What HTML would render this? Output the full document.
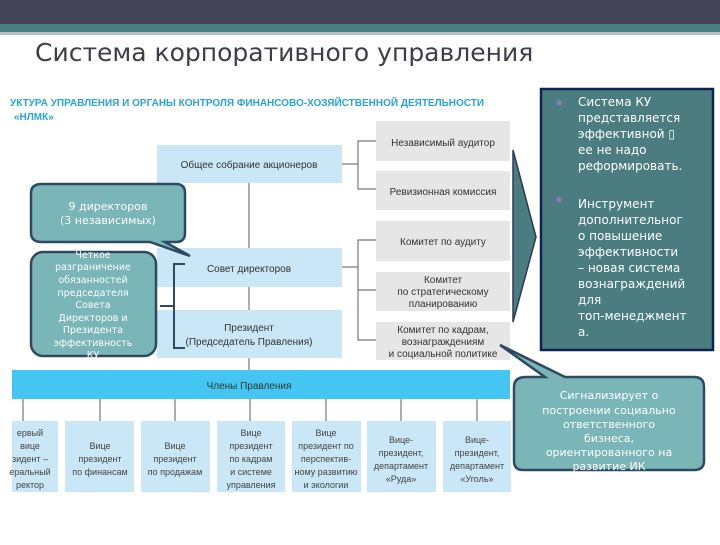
<!DOCTYPE html>
<html><head><meta charset="utf-8"><style>
html,body{margin:0;padding:0;background:#fff;}
body{width:720px;height:540px;overflow:hidden;position:relative;font-family:"Liberation Sans","DejaVu Sans",sans-serif;}
</style></head><body>
<svg width="720" height="540" viewBox="0 0 720 540" xmlns="http://www.w3.org/2000/svg" font-family="Liberation Sans, DejaVu Sans, sans-serif">
<rect x="0" y="0" width="720" height="24" fill="#424356"/>
<rect x="0" y="24" width="720" height="8" fill="#4a7f82"/>
<rect x="0" y="32" width="720" height="3" fill="#b8c0c4"/>
<text x="35" y="61" font-size="25" fill="#3e3e4a" font-family="DejaVu Sans, sans-serif">Система корпоративного управления</text>

<text x="10" y="106" font-size="10" font-weight="bold" fill="#2aa3d3">УКТУРА УПРАВЛЕНИЯ И ОРГАНЫ КОНТРОЛЯ ФИНАНСОВО-ХОЗЯЙСТВЕННОЙ ДЕЯТЕЛЬНОСТИ</text>
<text x="14" y="120" font-size="10" font-weight="bold" fill="#2aa3d3">«НЛМК»</text>

<g stroke="#777" stroke-width="1.2" fill="none">
<line x1="249" y1="183" x2="249" y2="372"/>
<polyline points="342,164 358,164"/><polyline points="376,141 358,141 358,189 376,189"/>
<polyline points="342,267 358,267"/><polyline points="376,240 358,240 358,340 376,340"/><line x1="358" y1="290" x2="376" y2="290"/>
<line x1="23" y1="399" x2="23" y2="421"/><line x1="100" y1="399" x2="100" y2="421"/><line x1="175" y1="399" x2="175" y2="421"/>
<line x1="250" y1="399" x2="250" y2="421"/><line x1="326" y1="399" x2="326" y2="421"/><line x1="401" y1="399" x2="401" y2="421"/><line x1="477" y1="399" x2="477" y2="421"/>
</g>

<g fill="#c9e7f6">
<rect x="157" y="145" width="185" height="38"/>
<rect x="157" y="248" width="185" height="39"/>
<rect x="157" y="310" width="185" height="48"/>
</g>
<g font-size="10" fill="#333" text-anchor="middle">
<text x="249" y="168">Общее собрание акционеров</text>
<text x="249" y="272">Совет директоров</text>
<text x="249" y="331">Президент</text>
<text x="249" y="345">(Председатель Правления)</text>
</g>

<g fill="#e6e6e6">
<rect x="376" y="121" width="134" height="40"/><rect x="376" y="171" width="134" height="39"/>
<rect x="376" y="221" width="134" height="40"/><rect x="376" y="272" width="134" height="39"/><rect x="376" y="322" width="134" height="38"/>
</g>
<g font-size="10" fill="#333" text-anchor="middle">
<text x="443" y="146">Независимый аудитор</text>
<text x="443" y="195">Ревизионная комиссия</text>
<text x="443" y="245">Комитет по аудиту</text>
<text x="443" y="283">Комитет</text><text x="443" y="295">по стратегическому</text><text x="443" y="307">планированию</text>
<text x="443" y="333">Комитет по кадрам,</text><text x="443" y="345">вознаграждениям</text><text x="443" y="357">и социальной политике</text>
</g>

<rect x="12" y="370" width="498" height="29" fill="#45c6f2"/>
<text x="249" y="389" font-size="10" fill="#333" text-anchor="middle">Члены Правления</text>
<g fill="#c9e7f6">
<rect x="12" y="421" width="46" height="71"/><rect x="65" y="421" width="69" height="71"/><rect x="141" y="421" width="69" height="71"/>
<rect x="217" y="421" width="68" height="71"/><rect x="292" y="421" width="69" height="71"/><rect x="367" y="421" width="69" height="71"/><rect x="443" y="421" width="68" height="71"/>
</g>
<g font-size="9" fill="#444" text-anchor="middle">
<text x="30" y="436">ервый</text><text x="30" y="449">вице</text><text x="30" y="462">зидент –</text><text x="30" y="475">еральный</text><text x="30" y="488">ректор</text>
<text x="100" y="449">Вице</text><text x="100" y="462">президент</text><text x="100" y="475">по финансам</text>
<text x="175" y="449">Вице</text><text x="175" y="462">президент</text><text x="175" y="475">по продажам</text>
<text x="251" y="436">Вице</text><text x="251" y="449">президент</text><text x="251" y="462">по кадрам</text><text x="251" y="475">и системе</text><text x="251" y="488">управления</text>
<text x="326" y="436">Вице</text><text x="326" y="449">президент по</text><text x="326" y="462">перспектив-</text><text x="326" y="475">ному развитию</text><text x="326" y="488">и экологии</text>
<text x="401" y="443">Вице-</text><text x="401" y="456">президент,</text><text x="401" y="469">департамент</text><text x="401" y="482">«Руда»</text>
<text x="477" y="443">Вице-</text><text x="477" y="456">президент,</text><text x="477" y="469">департамент</text><text x="477" y="482">«Уголь»</text>
</g>

<!-- callout 1 -->
<path d="M42,184 H176 Q185,184 185,193 V233 Q185,242 176,242 H165 L190,256 L150,242 H42 Q31,242 31,233 V193 Q31,184 42,184 Z" fill="#7ab5b8" stroke="#2e4a63" stroke-width="2.5"/>
<g font-size="11" fill="#fff" text-anchor="middle" font-family="DejaVu Sans, sans-serif">
<text x="108" y="210">9 директоров</text><text x="108" y="224">(3 независимых)</text>
</g>
<!-- callout 2 -->
<rect x="31" y="252" width="125" height="104" rx="12" fill="#7ab5b8" stroke="#2e4a63" stroke-width="2.5"/>
<g font-size="9.5" fill="#fff" text-anchor="middle" font-family="DejaVu Sans, sans-serif">
<text x="93" y="258">Четкое</text><text x="93" y="270">разграничение</text><text x="93" y="283">обязанностей</text><text x="93" y="296">председателя</text><text x="93" y="308">Совета</text><text x="93" y="321">Директоров и</text><text x="93" y="333">Президента</text><text x="93" y="346">эффективность</text><text x="93" y="358">КУ</text>
</g>
<path d="M185,264 H174 V348 H185 M174,306 H160" fill="none" stroke="#2e4a63" stroke-width="2"/>

<!-- right arrow + panel -->
<polygon points="513,150 536,237 513,322" fill="#4a7c80" stroke="#2e3a5a" stroke-width="1.5"/>
<rect x="541" y="89" width="172" height="261" fill="#4a7c80" stroke="#0f2350" stroke-width="2.5"/>
<g font-size="12" fill="#fff" font-family="DejaVu Sans, sans-serif">
<text x="556" y="105" fill="#8a7fb0" font-size="9">▪</text>
<text x="578" y="106">Система КУ</text><text x="578" y="122">представляется</text><text x="578" y="138">эффективной  ▯</text><text x="578" y="154">ее не надо</text><text x="578" y="170">реформировать.</text>
<text x="556" y="202" fill="#8a7fb0" font-size="9">▪</text>
<text x="578" y="208">Инструмент</text><text x="578" y="224">дополнительног</text><text x="578" y="240">о повышение</text><text x="578" y="256">эффективности</text><text x="578" y="272">– новая система</text><text x="578" y="288">вознаграждений</text><text x="578" y="304">для</text><text x="578" y="320">топ-менеджмент</text><text x="578" y="336">а.</text>
</g>

<!-- callout 3 -->
<path d="M526,377 H545 L500,345 L565,377 H694 Q704,377 704,387 V461 Q704,470 694,470 H523 Q514,470 514,461 V387 Q514,377 526,377 Z" fill="#7ab5b8" stroke="#2e4a63" stroke-width="2.5"/>
<g font-size="11" fill="#fff" text-anchor="middle" font-family="DejaVu Sans, sans-serif">
<text x="609" y="399">Сигнализирует о</text><text x="609" y="414">построении социально</text><text x="609" y="428">ответственного</text><text x="609" y="442">бизнеса,</text><text x="609" y="456">ориентированного на</text><text x="609" y="470">развитие ИК</text>
</g>
</svg>
</body></html>
